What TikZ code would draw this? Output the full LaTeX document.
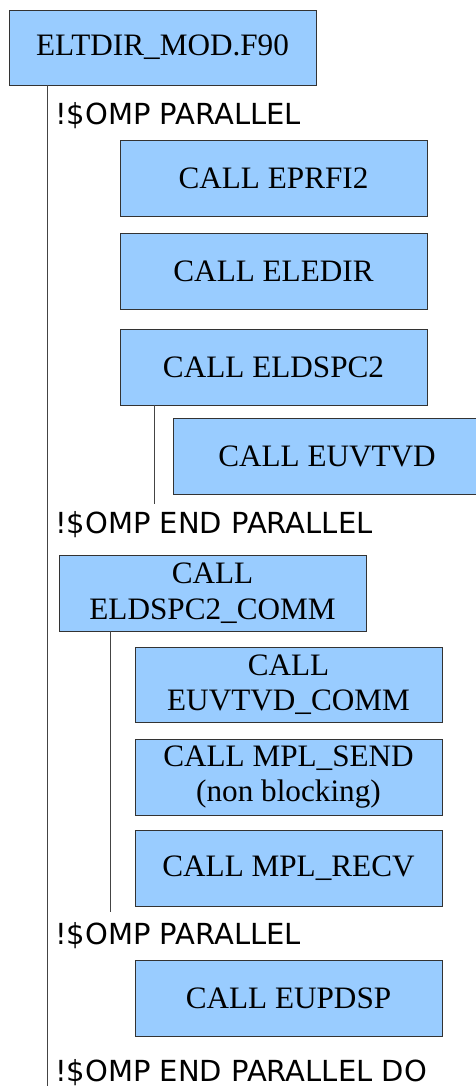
\documentclass[tikz,border=0pt]{standalone}
\usepackage{fontspec}
\setmainfont{Liberation Serif}
\newfontfamily\omplabelfont{DejaVu Sans}
\definecolor{boxfill}{HTML}{99CCFF}
\definecolor{boxline}{HTML}{333333}
\definecolor{treeline}{HTML}{444444}
\begin{document}
\begin{tikzpicture}[x=1pt,y=-1pt,
  callbox/.style={draw=boxline,fill=boxfill,line width=0.9pt,inner sep=0pt,
    align=center,font=\fontsize{31.2}{35.5}\selectfont},
  omp/.style={anchor=base west,inner sep=0pt,font=\omplabelfont\fontsize{29}{34}\selectfont},
  tree/.style={draw=treeline,line width=0.9pt}]
\useasboundingbox (0,0) rectangle (476,1086);
% module and its call tree
\node[callbox,minimum width=307,minimum height=75] (mod) at (162.5,47.5) {ELTDIR\_MOD.F90};
\node[omp] (par1) at (55,125) {!\$OMP PARALLEL};
\node[callbox,minimum width=307,minimum height=76] (eprfi) at (273.5,178) {CALL EPRFI2};
\node[callbox,minimum width=307,minimum height=76] (eledir) at (273.5,271) {CALL ELEDIR};
\node[callbox,minimum width=307,minimum height=76] (eldspc) at (273.5,367) {CALL ELDSPC2};
\node[callbox,minimum width=308,minimum height=76] (euvtvd) at (327,456) {CALL EUVTVD};
\node[omp] (endpar1) at (55,533) {!\$OMP END PARALLEL};
\node[callbox,minimum width=307,minimum height=76] (eldcomm) at (212.5,593) {CALL\\ELDSPC2\_COMM};
\node[callbox,minimum width=307,minimum height=75] (euvcomm) at (288.5,684.5) {CALL\\EUVTVD\_COMM};
\node[callbox,minimum width=307,minimum height=76] (send) at (288.5,777) {CALL MPL\_SEND\\(non blocking)};
\node[callbox,minimum width=307,minimum height=76] (recv) at (288.5,868) {CALL MPL\_RECV};
\node[omp] (par2) at (55,944) {!\$OMP PARALLEL};
\node[callbox,minimum width=307,minimum height=76] (eupdsp) at (288.5,998) {CALL EUPDSP};
\node[omp] (endpar2) at (55,1081) {!\$OMP END PARALLEL DO};
% free ends of the tree lines
\coordinate (mainend) at (47,1086);
\coordinate (eldend) at (154,504);
\coordinate (commend) at (110,912);
\draw[tree] (mod.south -| mainend) -- (mainend);
\draw[tree] (eldspc.south -| eldend) -- (eldend);
\draw[tree] (eldcomm.south -| commend) -- (commend);
\end{tikzpicture}
\end{document}
